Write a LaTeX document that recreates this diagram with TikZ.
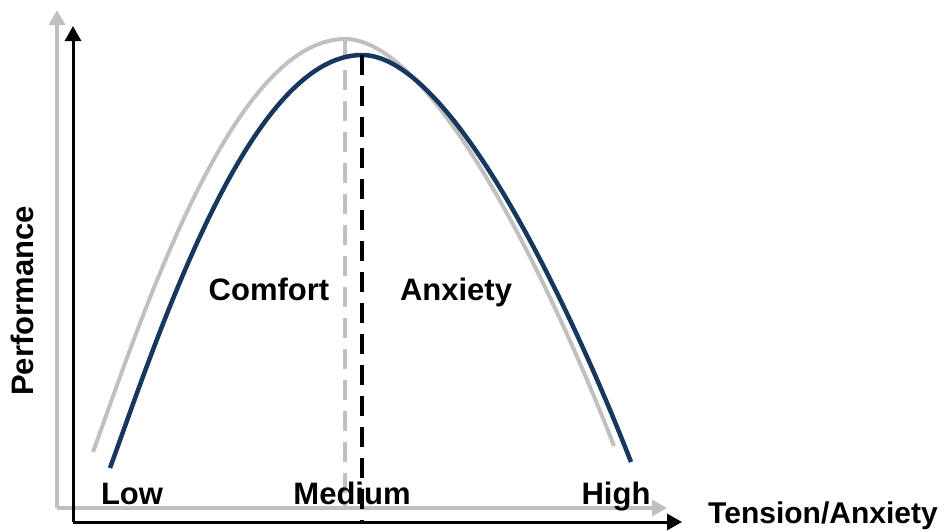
\documentclass[tikz,border=0pt]{standalone}
\usepackage{fontspec}
\setmainfont{Liberation Sans}
\usetikzlibrary{arrows.meta}
\definecolor{navy}{RGB}{23,55,94}
\definecolor{silv}{RGB}{192,192,192}
\tikzset{
  lbl/.style={font=\bfseries\fontsize{31}{36}\selectfont, inner sep=0pt, anchor=base},
  grayaxis/.style={draw=silv, line width=3.5pt, -{Triangle[width=16pt,length=15pt]}},
  blackaxis/.style={draw=black, line width=3pt, -{Triangle[width=16pt,length=15pt]}},
  graycurve/.style={draw=silv, line width=4pt},
  bluecurve/.style={draw=navy, line width=4.5pt},
  dashline/.style={line width=3.2pt, dash pattern=on 20pt off 11pt},
}
\begin{document}
\begin{tikzpicture}[x=1pt,y=-1pt]
\useasboundingbox (0,0) rectangle (952,531);
% coordinates
\coordinate (go) at (57,508);
\coordinate (gy) at (57,10);
\coordinate (gx) at (667,508);
\coordinate (bo) at (73,522);
\coordinate (by) at (73,26);
\coordinate (bx) at (682,522);
\coordinate (gs) at (93,452);
\coordinate (gp) at (345,39);
\coordinate (ge) at (614,446);
\coordinate (bs) at (110,468);
\coordinate (bp) at (362,55);
\coordinate (be) at (631,462);
\coordinate (gd) at (345,508);
\coordinate (bd) at (362,522);
% gray (shadow) layer
\draw[grayaxis] (go) -- (gy);
\draw[grayaxis] (go) -- (gx);
\draw[graycurve] (gs) .. controls (143,314) and (233,39) .. (gp)
  .. controls (433,39) and (551,284) .. (ge);
\draw[draw=silv, dashline] (gp) -- (gd);
% black layer
\draw[blackaxis] (bo) -- (by);
\draw[blackaxis] (bo) -- (bx);
\draw[bluecurve] (bs) .. controls (160,330) and (250,55) .. (bp)
  .. controls (450,55) and (568,300) .. (be);
\draw[draw=black, dashline] (bp) -- (bd);
% labels
\node[lbl] (low) at (132,504) {Low};
\node[lbl] (med) at (352,504) {Medium};
\node[lbl] (high) at (616,504) {High};
\node[lbl] (comf) at (269,300) {Comfort};
\node[lbl] (anx) at (456,300) {Anxiety};
\node[lbl, anchor=base west, font=\bfseries\fontsize{30}{36}\selectfont] (xlab) at (708,523) {Tension/Anxiety};
\node[lbl, rotate=90] (ylab) at (33,301) {Performance};
\end{tikzpicture}
\end{document}
